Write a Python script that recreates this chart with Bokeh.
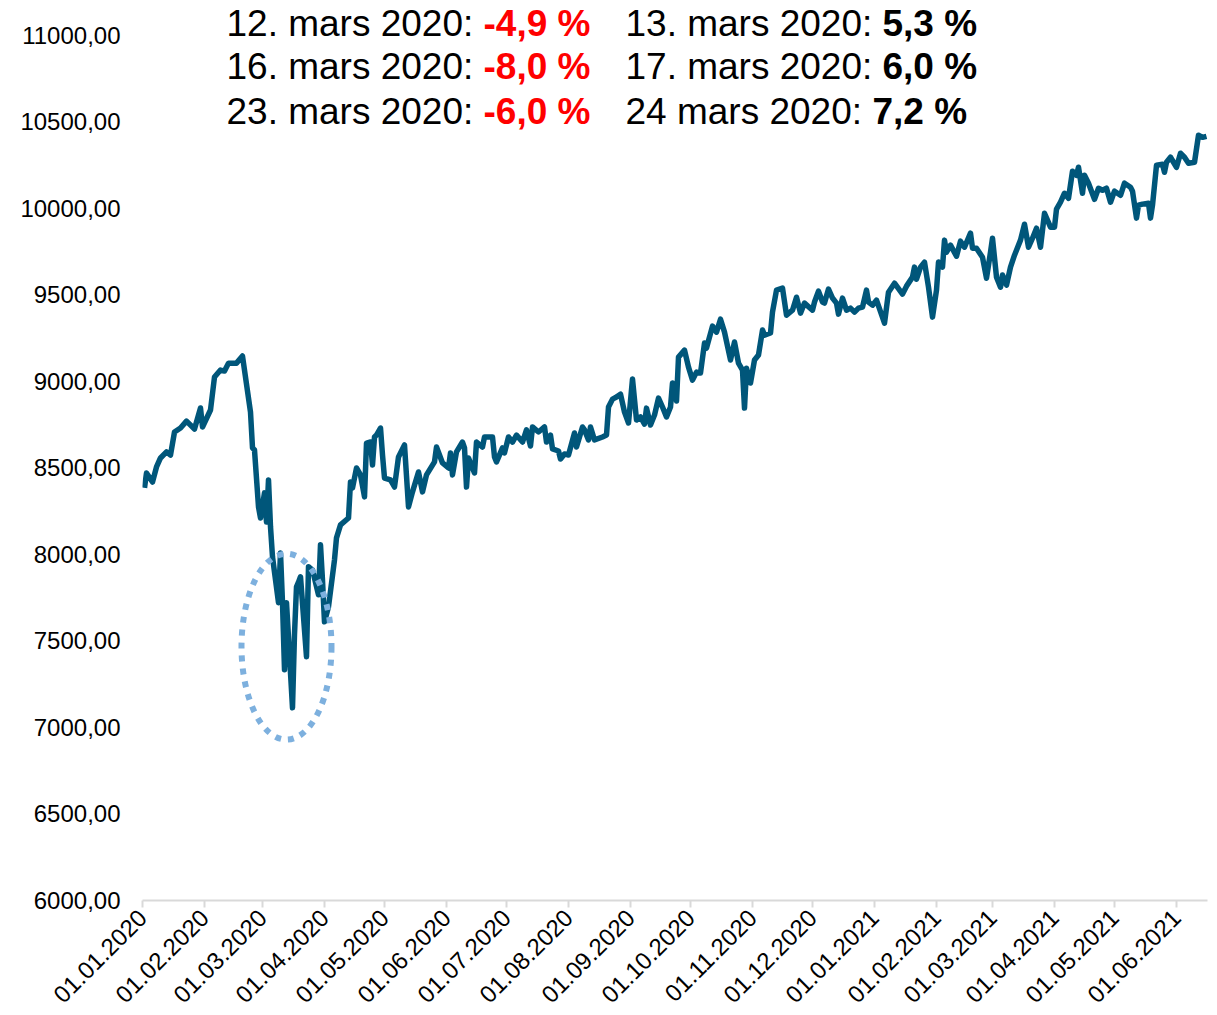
import pandas as pd
from math import pi
from bokeh.plotting import figure
from bokeh.models import Range1d, FixedTicker, DatetimeTickFormatter, Label
from bokeh.embed import file_html
from bokeh.resources import INLINE

# ---------------- data ----------------
# trading days, expressed as days since 01.01.2020
days = [1, 2, 5, 7, 9, 12, 14, 16, 19, 22, 26, 29, 30, 34, 36, 39, 41, 43, 47, 50,
        54, 55, 56, 58, 59, 61, 62, 63, 64, 65, 68, 69, 70, 71, 72, 75, 76, 77, 78, 79,
        82, 83, 84, 85, 88, 89, 90, 91, 93, 96,
        97, 99, 103, 104, 105, 107, 109, 111, 112, 114, 115, 116, 117, 119, 120, 121, 124, 126, 128, 131,
        133, 135, 138, 140, 142, 146, 147, 150, 153, 154, 155, 157, 160, 161, 162, 163, 166, 167, 170, 171,
        175, 176, 177, 180, 181, 183, 185, 187, 190, 192, 194, 195, 198,
        201, 202, 204, 205, 208, 209, 211, 213, 216, 217, 220, 221, 223, 224, 226, 230, 232, 233, 235, 237,
        239, 241, 243, 245, 247, 249, 251, 252, 254, 256, 258, 260, 262, 264, 265, 267, 268, 271, 273, 275,
        277, 279, 281, 282, 285, 287, 289, 291, 294, 296, 298,
        300, 301, 302, 304, 306, 308, 310, 311, 314, 315, 317, 320, 322, 325, 327, 329, 331, 335, 336, 338,
        340, 341, 343, 345, 347, 348, 350, 352, 354, 356, 358, 360, 362, 363, 365, 367, 371, 373, 376, 380,
        382, 385, 386, 387, 389, 391, 393, 395, 397, 398, 400, 401, 402,
        404, 407, 409, 411, 414, 415, 417, 420, 422, 424, 425, 427, 429, 430, 432, 434, 436, 439, 441, 443,
        445, 447, 449, 451, 454, 456, 457, 459, 461, 463, 465, 467, 468, 470, 471, 473, 476, 478, 480, 482,
        484, 486, 489, 491, 494, 495, 497, 498, 500, 503, 504, 505, 507, 510, 511, 512, 514, 517, 519, 521,
        523, 526, 528, 530, 532]

index_values = [8385, 8471, 8419, 8506, 8558, 8593, 8575, 8708, 8731, 8771, 8725, 8847, 8737, 8835, 9026, 9066, 9060, 9106, 9106, 9147,
                8823, 8616, 8604, 8275, 8211, 8356, 8188, 8431, 8160, 7986, 7721, 8009, 7720, 7334, 7721, 7114, 7540, 7813, 7840, 7871,
                7409, 7929, 7920, 7911, 7767, 8056, 7850, 7611, 7698, 7969,
                8096, 8171, 8211, 8419, 8385, 8500, 8460, 8333, 8644, 8650, 8517, 8679, 8690, 8731, 8575, 8442, 8431, 8390, 8564, 8633,
                8275, 8362, 8477, 8362, 8460, 8535, 8621, 8529, 8500, 8587, 8460, 8593, 8650, 8616, 8390, 8558, 8471, 8650, 8621, 8679,
                8679, 8564, 8535, 8616, 8587, 8679, 8650, 8690, 8650, 8720, 8627, 8737, 8708,
                8737, 8650, 8690, 8610, 8598, 8552, 8581, 8575, 8702, 8621, 8737, 8720, 8662, 8737, 8662, 8679, 8690, 8852, 8898, 8910,
                8927, 8823, 8760, 9014, 8777, 8795, 8754, 8846, 8748, 8806, 8904, 8852, 8795, 8852, 8991, 8887, 9141, 9181, 9083, 9008,
                9054, 9049, 9222, 9193, 9320, 9285, 9360, 9285, 9124, 9228, 9106,
                9066, 8846, 9077, 8991, 9124, 9153, 9297, 9268, 9280, 9401, 9528, 9540, 9383, 9412, 9487, 9395, 9453, 9412, 9459, 9522,
                9459, 9453, 9534, 9482, 9453, 9389, 9482, 9412, 9424, 9401, 9424, 9430, 9528, 9459, 9441, 9470, 9337, 9516, 9568, 9505,
                9551, 9603, 9661, 9591, 9661, 9690, 9545, 9372, 9528, 9690, 9661, 9817, 9747,
                9788, 9724, 9811, 9776, 9857, 9770, 9770, 9718, 9597, 9747, 9828, 9603, 9545, 9615, 9557, 9661, 9730, 9817, 9909, 9776,
                9828, 9886, 9776, 9972, 9892, 9892, 9996, 10036, 10088, 10059, 10215, 10192, 10238, 10088, 10192, 10146, 10053, 10117, 10105, 10117,
                10036, 10100, 10076, 10146, 10123, 10100, 9944, 10019, 10025, 10030, 9944, 10019, 10250, 10255, 10209, 10267, 10296, 10238, 10319, 10296,
                10261, 10267, 10423, 10411, 10417]

y_ticks = [6000, 6500, 7000, 7500, 8000, 8500, 9000, 9500, 10000, 10500, 11000]
x_tick_months = ["2020-01-01", "2020-02-01", "2020-03-01", "2020-04-01", "2020-05-01", "2020-06-01",
                 "2020-07-01", "2020-08-01", "2020-09-01", "2020-10-01", "2020-11-01", "2020-12-01",
                 "2021-01-01", "2021-02-01", "2021-03-01", "2021-04-01", "2021-05-01", "2021-06-01"]

left_dates = ["12. mars 2020:", "16. mars 2020:", "23. mars 2020:"]
left_changes = ["-4,9 %", "-8,0 %", "-6,0 %"]
right_dates = ["13. mars 2020:", "17. mars 2020:", "24 mars 2020:"]
right_changes = ["5,3 %", "6,0 %", "7,2 %"]

# ---------------- figure ----------------
start = pd.Timestamp("2020-01-01")
dates = start + pd.to_timedelta(days, unit="D")

FONT = "Liberation Sans"
LINE_COLOR = "#00567A"

# frame spans the whole height above the axis so the text block on top is not clipped
p = figure(width=1209, height=1013, x_axis_type="datetime",
           output_backend="svg", toolbar_location=None,
           x_range=Range1d(start, start + pd.Timedelta(days=532.5)),
           y_range=Range1d(6000, 11202),
           min_border_left=142, min_border_right=2, min_border_top=0, min_border_bottom=112)

p.background_fill_color = "white"
p.border_fill_color = "white"
p.outline_line_color = None
p.xgrid.grid_line_color = None
p.ygrid.grid_line_color = None

p.line(dates, index_values, line_color=LINE_COLOR, line_width=5.5, line_join="round")

# dotted ellipse around the March 2020 crash
p.ellipse(x=[start + pd.Timedelta(days=72)], y=[7467],
          width=[45 * 86400000], height=[1074],
          fill_color=None, line_color="#7DB0DE", line_width=6, line_dash="6 7")

# y axis
p.yaxis.ticker = FixedTicker(ticks=y_ticks)
p.yaxis.major_label_overrides = {t: f"{t},00" for t in y_ticks}
p.yaxis.axis_line_color = None
p.yaxis.major_tick_line_color = None
p.yaxis.minor_tick_line_color = None
p.yaxis.major_tick_out = 0
p.yaxis.major_tick_in = 0
p.yaxis.major_label_standoff = 22
p.yaxis.major_label_text_font = FONT
p.yaxis.major_label_text_font_size = "24px"
p.yaxis.major_label_text_color = "black"

# x axis
tick_ms = [int(pd.Timestamp(d).timestamp() * 1000) for d in x_tick_months]
p.xaxis.ticker = FixedTicker(ticks=tick_ms)
p.xaxis.formatter = DatetimeTickFormatter(days="%d.%m.%Y", months="%d.%m.%Y", years="%d.%m.%Y")
p.xaxis.major_label_orientation = pi / 4
p.xaxis.axis_line_color = "#d9d9d9"
p.xaxis.axis_line_width = 2
p.xaxis.major_tick_line_color = "#d9d9d9"
p.xaxis.major_tick_line_width = 2
p.xaxis.major_tick_out = 7
p.xaxis.major_tick_in = 0
p.xaxis.minor_tick_line_color = None
p.xaxis.major_label_standoff = 6
p.xaxis.major_label_text_font = FONT
p.xaxis.major_label_text_font_size = "24px"
p.xaxis.major_label_text_color = "black"

# annotation text block (screen units, relative to the plot frame)
row_y = [877, 834, 789]
TXT_SIZE = "37px"
for i in range(3):
    p.add_layout(Label(x=84, y=row_y[i], x_units="screen", y_units="screen", text=left_dates[i],
                       text_font=FONT, text_font_size=TXT_SIZE, text_color="black",
                       text_baseline="alphabetic", text_align="left"))
    p.add_layout(Label(x=341, y=row_y[i], x_units="screen", y_units="screen", text=left_changes[i],
                       text_font=FONT, text_font_size=TXT_SIZE, text_color="#FF0000",
                       text_font_style="bold", text_baseline="alphabetic", text_align="left"))
    p.add_layout(Label(x=483, y=row_y[i], x_units="screen", y_units="screen", text=right_dates[i],
                       text_font=FONT, text_font_size=TXT_SIZE, text_color="black",
                       text_baseline="alphabetic", text_align="left"))
    p.add_layout(Label(x=740 if i < 2 else 730, y=row_y[i], x_units="screen", y_units="screen",
                       text=right_changes[i], text_font=FONT, text_font_size=TXT_SIZE,
                       text_color="black", text_font_style="bold",
                       text_baseline="alphabetic", text_align="left"))

open("out.html", "w").write(file_html(p, INLINE))
